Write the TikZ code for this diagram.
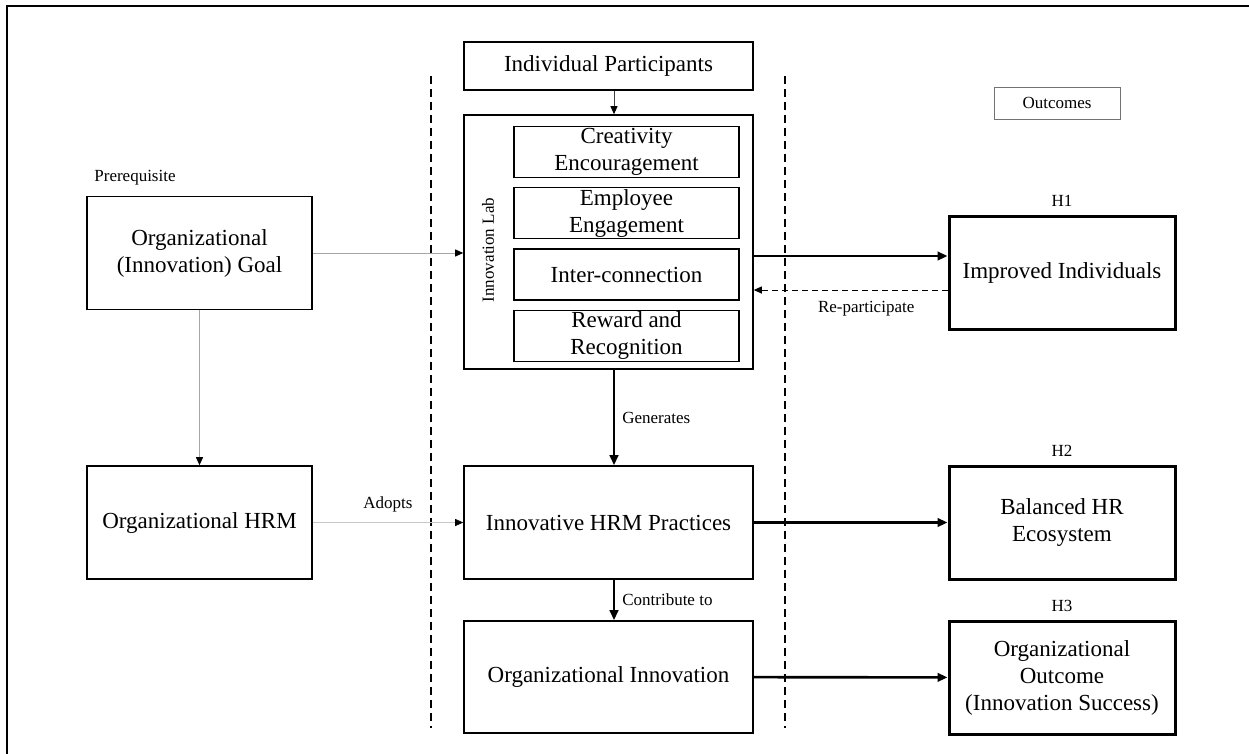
\documentclass[tikz,border=0pt]{standalone}
\usepackage{fontspec}
\setmainfont{Liberation Serif}
\usetikzlibrary{positioning,arrows.meta}

\begin{document}
\begin{tikzpicture}
    [ x=1pt, y=-1pt
    , every node/.style={inner sep=0pt, align=center}
    , box/.style={draw, line width=1.6pt, minimum width=225pt, minimum height=113pt, font=\fontsize{23}{27}\selectfont}
    , widebox/.style={box, minimum width=289pt}
    , outbox/.style={box, line width=3pt, minimum width=226pt}
    , subbox/.style={draw, line width=1.3pt, minimum width=225pt, minimum height=51pt, font=\fontsize{23}{27}\selectfont}
    , lbl/.style={font=\fontsize{17}{20}\selectfont, inner sep=1pt}
    , thin arrow/.style={-{Triangle[length=8pt,width=7pt,color=black]}, line width=0.9pt}
    , thick arrow/.style={-{Triangle[length=10pt,width=8.5pt]}, line width=2.6pt}
    , back arrow/.style={-{Triangle[length=8pt,width=7pt]}, line width=1pt, dash pattern=on 6pt off 4pt}
    , divider/.style={line width=1.6pt, dash pattern=on 8pt off 5pt}
    ]
\useasboundingbox (0,0) rectangle (1249,753);
% page frame
\draw[line width=1.5pt] (7,780) -- (7,6) -- (1280,6);
% the two dashed dividers
\draw[divider] (431,76) -- (431,728);
\draw[divider] (785,76) -- (785,728);

% left column
\node[box] (goal) at (199.5,253) {Organizational\\(Innovation) Goal};
\node[lbl, anchor=south west] at ([xshift=7pt,yshift=9pt]goal.north west) {Prerequisite};
\node[box] (hrm) at (199.5,522.5) {Organizational HRM};

% middle column
\node[widebox, minimum height=48pt] (ip) at (608.5,66) {Individual Participants};
\node[widebox, minimum height=254pt] (lab) at (608.5,242) {};
\node[lbl, rotate=90] (lablabel) at (488,250) {Innovation Lab};
\node[subbox] (creativity) at (626.5,152) {Creativity\\Encouragement};
\node[subbox, below=9pt of creativity] (engagement) {Employee\\Engagement};
\node[subbox, below=9pt of engagement] (interconn) {Inter-connection};
\node[subbox, below=9pt of interconn] (reward) {Reward and\\Recognition};
\node[widebox] (practices) at (608.5,522.5) {Innovative HRM Practices};
\node[widebox, minimum height=112pt] (orginnov) at (608.5,677) {Organizational Innovation};

% outcomes
\node[lbl, draw=black!55, line width=1pt, minimum width=126pt, minimum height=32pt] (outlabel) at (1057,103) {Outcomes};
\node[outbox] (improved) at (1062,272.5) {Improved Individuals};
\node[outbox] (balanced) at (1062,522.5) {Balanced HR\\Ecosystem};
\node[outbox] (outcome) at (1062,677.5) {Organizational\\Outcome\\(Innovation Success)};
\node[lbl, above=7pt of improved] {H1};
\node[lbl, above=7pt of balanced] {H2};
\node[lbl, above=7pt of outcome] {H3};

% connectors
\draw[thin arrow, draw=black!75] ([xshift=5.5pt]ip.south) -- ([xshift=5.5pt]lab.north);
\draw[thin arrow, draw=black!35] (goal.east) -- (goal.east -| lab.west);
\draw[thin arrow, draw=black!35] (goal) -- (hrm);
\draw[thin arrow, draw=black!22, line width=0.6pt] (hrm) -- node[lbl, above=9pt] {Adopts} (practices);
\draw[thick arrow] ([xshift=5.5pt]lab.south) -- node[lbl, right=6pt] {Generates} ([xshift=5.5pt]practices.north);
\draw[thick arrow] ([xshift=5.5pt]practices.south) -- node[lbl, right=6pt] {Contribute to} ([xshift=5.5pt]orginnov.north);
\draw[thick arrow] ([yshift=-14pt]lab.east) -- ([yshift=-14pt]lab.east -| improved.west);
\draw[back arrow] ([yshift=-17.5pt]improved.west) -- node[lbl, below=10pt, pos=0.42] {Re-participate} ([yshift=-17.5pt]improved.west -| lab.east);
\draw[thick arrow] (practices) -- (balanced);
\draw[thick arrow] (orginnov) -- (outcome);
\end{tikzpicture}
\end{document}
